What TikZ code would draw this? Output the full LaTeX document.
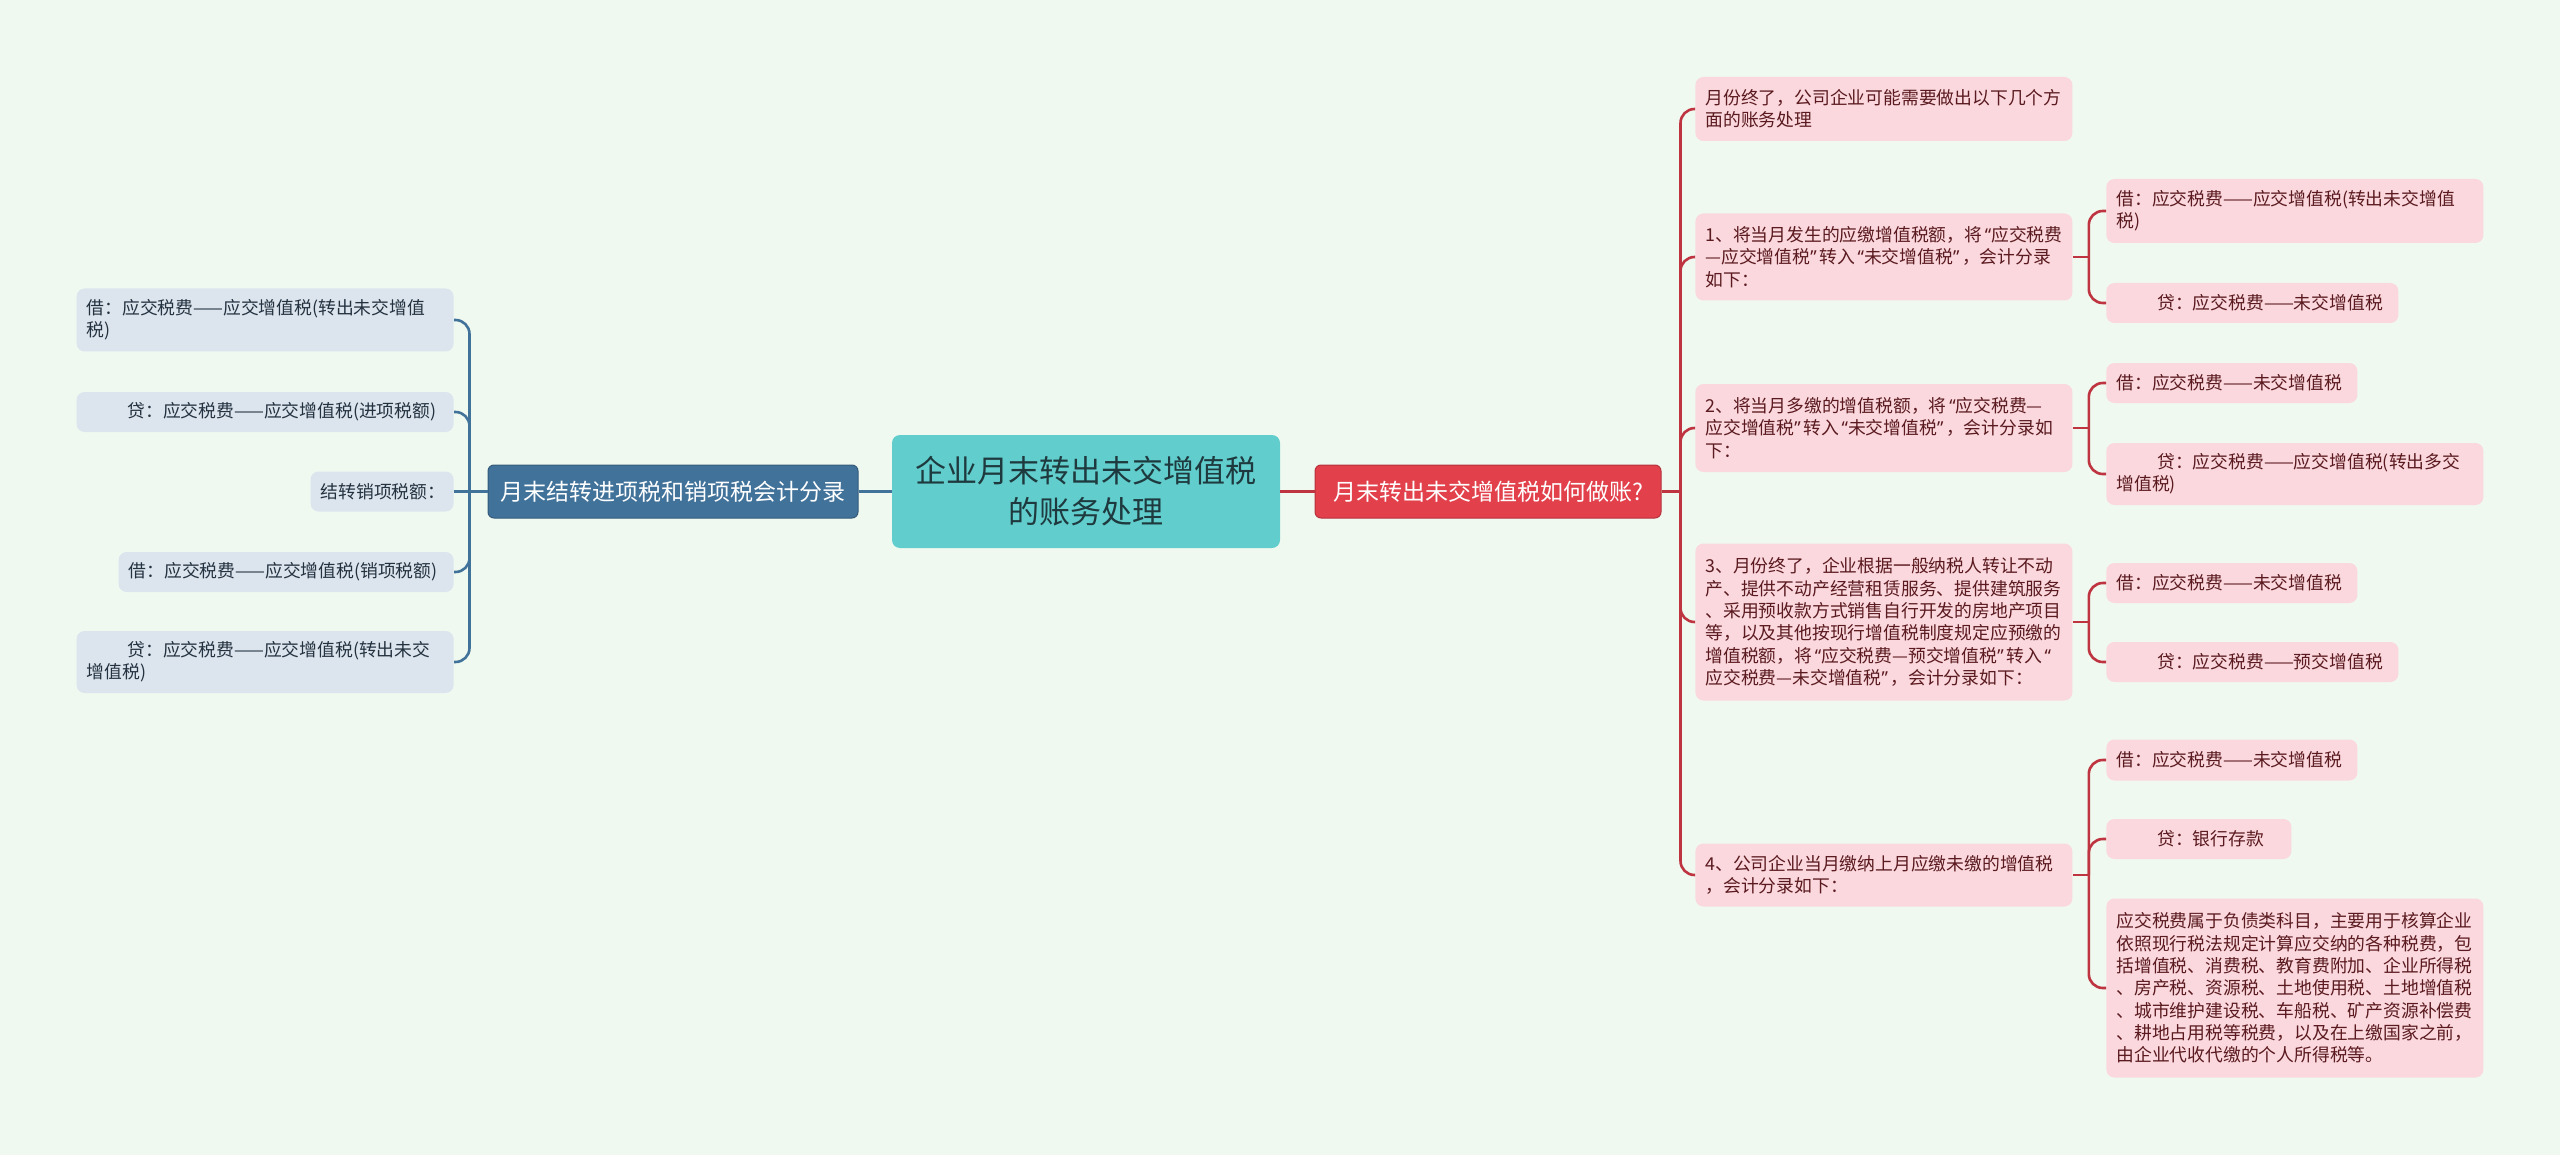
\documentclass[tikz,border=0pt]{standalone}
\usepackage{fontspec}
\newfontfamily\cjk{Noto Sans CJK SC}
\newfontfamily\quofont{Noto Sans}
\usepackage{xcolor}
\usepackage{tikz}
\usetikzlibrary{positioning}

\definecolor{bgmint}{HTML}{F0F9F0}
\definecolor{rootteal}{HTML}{62CDCD}
\definecolor{roottext}{HTML}{1E3A3E}
\definecolor{lblue}{HTML}{41729A}
\definecolor{lleaffill}{HTML}{DCE5EE}
\definecolor{lleaftext}{HTML}{243240}
\definecolor{rred}{HTML}{E2404B}
\definecolor{rline}{HTML}{BE3440}
\definecolor{rleaffill}{HTML}{FAD8DD}
\definecolor{rleaftext}{HTML}{5A1A1F}

\newcommand{\indt}{\hspace*{2.3em}}
\newcommand{\qL}{{\quofont\kern0.15em“}}
\newcommand{\qR}{{\quofont”\kern0.15em}}

\begin{document}
\begin{tikzpicture}[
    x=0.5pt, y=-0.5pt,
    rootbox/.style={rectangle, rounded corners=4pt, fill=rootteal, text=roottext, align=center,
        minimum width=194pt, minimum height=56.5pt, font=\cjk\fontsize{15.5}{20.5}\selectfont},
    lmainbox/.style={rectangle, rounded corners=3pt, fill=lblue, draw=lblue!80!black, line width=0.5pt,
        text=white, minimum width=185pt, minimum height=26.5pt, font=\cjk\fontsize{11.5}{14}\selectfont},
    rmainbox/.style={rectangle, rounded corners=3pt, fill=rred, draw=rred!80!black, line width=0.5pt,
        text=white, minimum width=173pt, minimum height=26.5pt, font=\cjk\fontsize{11.5}{14}\selectfont},
    leaf/.style={rectangle, rounded corners=4pt, inner xsep=5pt, inner ysep=2pt, align=left,
        font=\cjk\fontsize{8.9}{11.15}\selectfont},
    lleaf/.style={leaf, fill=lleaffill, text=lleaftext, anchor=east},
    rleaf/.style={leaf, fill=rleaffill, text=rleaftext, anchor=west},
    lconn/.style={draw=lblue, line width=1.3pt, rounded corners=7pt},
    rconn/.style={draw=rline, line width=1.3pt, rounded corners=7pt}
]
\useasboundingbox (0,0) rectangle (2560,1155);
\fill[bgmint] (0,0) rectangle (2560,1155);

% centre and main branches
\node[rootbox] (root) at (1086,491.5) {企业月末转出未交增值税\\的账务处理};
\node[lmainbox] (lmain) at (673,491.5) {月末结转进项税和销项税会计分录};
\node[rmainbox] (rmain) at (1488,491.5) {月末转出未交增值税如何做账?};

% left leaves
\node[lleaf, text width=178.5pt, minimum height=31.5pt] (l1) at (454,320) {借：应交税费——应交增值税(转出未交增值\\税)};
\node[lleaf, text width=178.5pt, minimum height=20pt] (l2) at (454,412) {\indt{}贷：应交税费——应交增值税(进项税额)};
\node[lleaf, text width=61.5pt, minimum height=20pt] (l3) at (454,491.5) {结转销项税额：};
\node[lleaf, text width=157.5pt, minimum height=20pt] (l4) at (454,572) {借：应交税费——应交增值税(销项税额)};
\node[lleaf, text width=178.5pt, minimum height=31pt] (l5) at (454,662) {\indt{}贷：应交税费——应交增值税(转出未交\\增值税)};

% right second level
\node[rleaf, text width=178.5pt, minimum height=32pt] (r1) at (1695,109) {月份终了，公司企业可能需要做出以下几个方\\面的账务处理};
\node[rleaf, text width=178.5pt, minimum height=43.5pt] (r2) at (1695,257) {1、将当月发生的应缴增值税额，将\qL{}应交税费\\—应交增值税\qR{}转入\qL{}未交增值税\qR{}，会计分录\\如下：};
\node[rleaf, text width=178.5pt, minimum height=44pt] (r3) at (1695,428) {2、将当月多缴的增值税额，将\qL{}应交税费—\\应交增值税\qR{}转入\qL{}未交增值税\qR{}，会计分录如\\下：};
\node[rleaf, text width=178.5pt, minimum height=78.5pt] (r4) at (1695,622) {3、月份终了，企业根据一般纳税人转让不动\\产、提供不动产经营租赁服务、提供建筑服务\\、采用预收款方式销售自行开发的房地产项目\\等，以及其他按现行增值税制度规定应预缴的\\增值税额，将\qL{}应交税费—预交增值税\qR{}转入\qL\\应交税费—未交增值税\qR{}，会计分录如下：};
\node[rleaf, text width=178.5pt, minimum height=31.5pt] (r5) at (1695,875) {4、公司企业当月缴纳上月应缴未缴的增值税\\，会计分录如下：};

% right third level
\node[rleaf, text width=178.5pt, minimum height=32pt] (c11) at (2106,211) {借：应交税费——应交增值税(转出未交增值\\税)};
\node[rleaf, text width=136pt, minimum height=20pt] (c12) at (2106,303) {\indt{}贷：应交税费——未交增值税};
\node[rleaf, text width=115.5pt, minimum height=20pt] (c21) at (2106,383) {借：应交税费——未交增值税};
\node[rleaf, text width=178.5pt, minimum height=31pt] (c22) at (2106,474) {\indt{}贷：应交税费——应交增值税(转出多交\\增值税)};
\node[rleaf, text width=115.5pt, minimum height=20pt] (c31) at (2106,583) {借：应交税费——未交增值税};
\node[rleaf, text width=136pt, minimum height=20pt] (c32) at (2106,662) {\indt{}贷：应交税费——预交增值税};
\node[rleaf, text width=115.5pt, minimum height=20.5pt] (c41) at (2106,760) {借：应交税费——未交增值税};
\node[rleaf, text width=82.5pt, minimum height=20pt] (c42) at (2106,839) {\indt{}贷：银行存款};
\node[rleaf, text width=178.5pt, minimum height=89.5pt] (c43) at (2106,988) {应交税费属于负债类科目，主要用于核算企业\\依照现行税法规定计算应交纳的各种税费，包\\括增值税、消费税、教育费附加、企业所得税\\、房产税、资源税、土地使用税、土地增值税\\、城市维护建设税、车船税、矿产资源补偿费\\、耕地占用税等税费，以及在上缴国家之前，\\由企业代收代缴的个人所得税等。};

% connectors
\draw[lconn] (root.west) -- (lmain.east);
\draw[rconn] (root.east) -- (rmain.west);

\draw[lconn] (lmain.west) -- ++(-18,0) coordinate (lj);
\foreach \n in {l1,l2,l4,l5} \draw[lconn] (lj) |- (\n.east);
\draw[lconn] (lj) -- (l3.east);

\draw[rconn] (rmain.east) -- ++(19,0) coordinate (rj);
\foreach \n in {r1,r2,r3,r4,r5} \draw[rconn] (rj) |- (\n.west);

\draw[rconn] (r2.east) -- ++(16,0) coordinate (r2j);
\foreach \n in {c11,c12} \draw[rconn] (r2j) |- (\n.west);
\draw[rconn] (r3.east) -- ++(16,0) coordinate (r3j);
\foreach \n in {c21,c22} \draw[rconn] (r3j) |- (\n.west);
\draw[rconn] (r4.east) -- ++(16,0) coordinate (r4j);
\foreach \n in {c31,c32} \draw[rconn] (r4j) |- (\n.west);
\draw[rconn] (r5.east) -- ++(16,0) coordinate (r5j);
\foreach \n in {c41,c42,c43} \draw[rconn] (r5j) |- (\n.west);
\end{tikzpicture}
\end{document}
